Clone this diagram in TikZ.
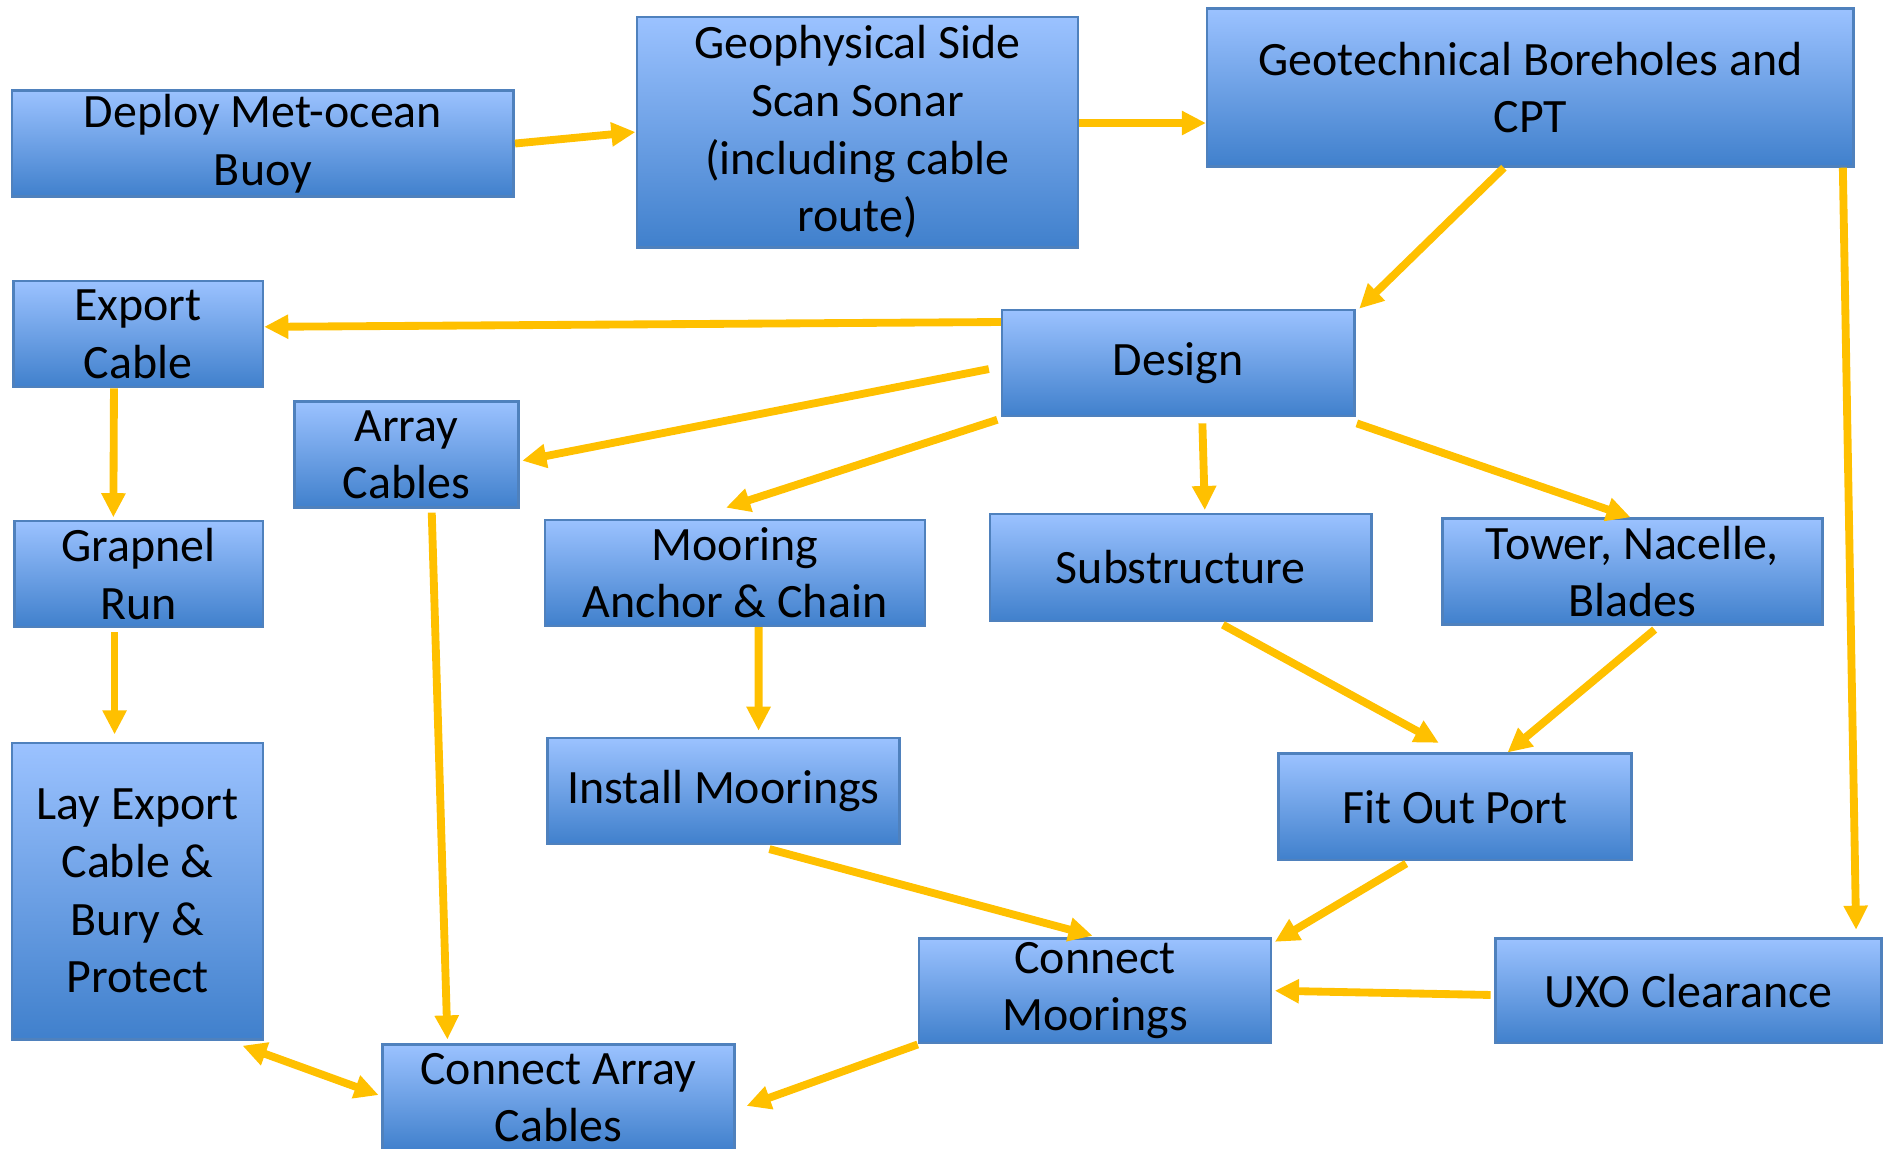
\documentclass[tikz,border=0pt]{standalone}
\usepackage{fontspec}
\setmainfont{Carlito}
\usetikzlibrary{arrows.meta}
\definecolor{boxtop}{RGB}{155,194,255}
\definecolor{boxbot}{RGB}{64,128,204}
\definecolor{boxline}{RGB}{79,129,189}
\definecolor{flowc}{RGB}{255,192,0}
\tikzset{
  stage/.style={draw=boxline,line width=0.6pt,top color=boxtop,bottom color=boxbot,
    align=center,inner sep=0pt,font=\fontsize{11.3}{13.6}\selectfont},
  flowtip/.tip={Triangle[length=0.2cm,width=0.19cm]},
  flow/.style={draw=flowc,line width=1.85pt,-flowtip}
}
\begin{document}
\begin{tikzpicture}
            \useasboundingbox (0,0) rectangle (15.68,-9.52);
            \node[stage,minimum width=4.16cm,minimum height=0.88cm] (buoy) at (2.18,-1.19) {Deploy Met-ocean\\Buoy};
            \node[stage,minimum width=3.66cm,minimum height=1.91cm] (geo) at (7.11,-1.095) {Geophysical Side\\Scan Sonar\\(including cable\\route)};
            \node[stage,minimum width=5.36cm,minimum height=1.31cm] (geotech) at (12.69,-0.725) {Geotechnical Boreholes and\\CPT};
            \node[stage,minimum width=2.92cm,minimum height=0.88cm] (design) at (9.77,-3.01) {Design};
            \node[stage,minimum width=2.07cm,minimum height=0.88cm] (export) at (1.145,-2.77) {Export\\Cable};
            \node[stage,minimum width=1.86cm,minimum height=0.88cm] (array) at (3.37,-3.77) {Array\\Cables};
            \node[stage,minimum width=3.15cm,minimum height=0.88cm] (mooring) at (6.095,-4.75) {Mooring\\Anchor \& Chain};
            \node[stage,minimum width=3.16cm,minimum height=0.89cm] (substr) at (9.79,-4.705) {Substructure};
            \node[stage,minimum width=3.15cm,minimum height=0.88cm] (tower) at (13.535,-4.74) {Tower, Nacelle,\\Blades};
            \node[stage,minimum width=2.06cm,minimum height=0.88cm] (grapnel) at (1.15,-4.76) {Grapnel\\Run};
            \node[stage,minimum width=2.08cm,minimum height=2.46cm] (layexport) at (1.14,-7.39) {Lay Export\\Cable \&\\Bury \&\\Protect};
            \node[stage,minimum width=2.92cm,minimum height=0.88cm] (install) at (6.00,-6.56) {Install Moorings};
            \node[stage,minimum width=2.93cm,minimum height=0.88cm] (fitout) at (12.065,-6.69) {Fit Out Port};
            \node[stage,minimum width=2.92cm,minimum height=0.87cm] (connmoor) at (9.08,-8.215) {Connect\\Moorings};
            \node[stage,minimum width=3.20cm,minimum height=0.87cm] (uxo) at (14.00,-8.215) {UXO Clearance};
            \node[stage,minimum width=2.92cm,minimum height=0.88cm] (connarray) at (4.63,-9.10) {Connect Array\\Cables};
            % survey chain
            \draw[flow] (buoy.east) -- (geo.west);
            \draw[flow] ([yshift=0.075cm]geo.east) -- ([yshift=-0.295cm]geotech.west);
            \draw[flow] ([xshift=-0.22cm]geotech.south) -- ([xshift=0.03cm]design.north east);
            \draw[flow] ([xshift=-0.10cm]geotech.south east) -- ([xshift=-0.22cm,yshift=0.06cm]uxo.north east);
            % out of design
            \draw[flow] ([yshift=0.34cm]design.west) -- ([yshift=0.06cm]export.east);
            \draw[flow] ([xshift=-0.10cm,yshift=-0.05cm]design.west) -- ([xshift=0.02cm,yshift=-0.05cm]array.east);
            \draw[flow] ([xshift=-0.03cm,yshift=-0.02cm]design.south west) -- ([xshift=-0.075cm,yshift=0.09cm]mooring.north);
            \draw[flow] ([xshift=0.2cm,yshift=-0.05cm]design.south) -- ([xshift=0.2cm,yshift=0.02cm]substr.north);
            \draw[flow] ([xshift=0.01cm,yshift=-0.05cm]design.south east) -- ([xshift=-0.015cm]tower.north);
            % cables
            \draw[flow] ([xshift=-0.2cm]export.south) -- ([xshift=-0.21cm,yshift=0.02cm]grapnel.north);
            \draw[flow] ([xshift=-0.2cm,yshift=-0.03cm]grapnel.south) -- ([xshift=-0.19cm,yshift=0.06cm]layexport.north);
            \draw[flow] ([xshift=0.21cm,yshift=-0.03cm]array.south) -- ([xshift=-0.92cm,yshift=0.03cm]connarray.north);
            \draw[flow,flowtip-flowtip] ([xshift=-0.18cm,yshift=-0.04cm]layexport.south east) -- ([xshift=-0.02cm,yshift=0.02cm]connarray.west);
            % moorings and turbines
            \draw[flow] ([xshift=0.195cm]mooring.south) -- ([xshift=0.29cm,yshift=0.05cm]install.north);
            \draw[flow] ([xshift=0.35cm,yshift=-0.02cm]substr.south) -- ([xshift=-0.135cm,yshift=0.08cm]fitout.north);
            \draw[flow] ([xshift=0.185cm,yshift=-0.03cm]tower.south) -- ([xshift=0.435cm]fitout.north);
            \draw[flow] ([xshift=0.38cm,yshift=-0.03cm]install.south) -- ([xshift=-0.02cm,yshift=0.01cm]connmoor.north);
            \draw[flow] ([xshift=-0.405cm,yshift=-0.02cm]fitout.south) -- ([xshift=0.02cm,yshift=-0.04cm]connmoor.north east);
            \draw[flow] ([xshift=-0.03cm,yshift=-0.035cm]uxo.west) -- ([xshift=0.02cm]connmoor.east);
            \draw[flow] (connmoor.south west) -- ([xshift=0.09cm,yshift=-0.07cm]connarray.east);
        \end{tikzpicture}
\end{document}
